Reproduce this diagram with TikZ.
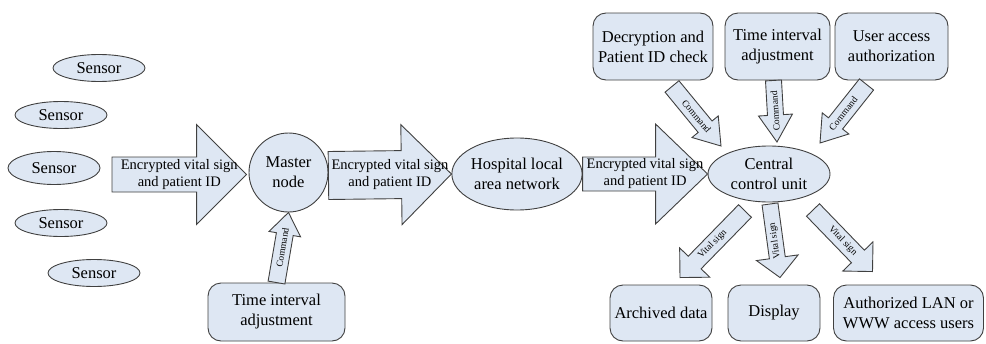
\documentclass[tikz,border=0pt]{standalone}
\usepackage{fontspec}
\setmainfont{Liberation Serif}
\usetikzlibrary{shapes.geometric,calc}

\definecolor{boxfill}{RGB}{222,231,243}
\definecolor{edge}{RGB}{64,64,64}

\tikzset{
  base/.style={draw=edge, fill=boxfill, line width=0.9pt, inner sep=0pt,
    align=center, font=\fontsize{16.5}{20}\selectfont},
  sensor/.style={base, ellipse, minimum width=92pt, minimum height=27pt},
  roundbox/.style={base, rectangle, rounded corners=13pt},
  blockarrow/.style={draw=edge, fill=boxfill, line width=0.9pt, line join=miter},
  bigtext/.style={font=\fontsize{14.5}{17}\selectfont, align=center, inner sep=0pt},
  smalltext/.style={font=\fontsize{9.5}{11}\selectfont, inner sep=0pt},
}

% Block arrow from #1 (tail) to #2 (tip):
% #3 body half-width, #4 head half-width, #5 head length,
% #6 label options, #7 label text
\newcommand{\blockarrow}[7]{%
  \coordinate (ba-t) at #1;
  \coordinate (ba-p) at #2;
  \coordinate (ba-h) at ($(ba-p)!#5!(ba-t)$);
  \draw[blockarrow]
    ($(ba-t)!#3!90:(ba-p)$) -- ($(ba-h)!#3!90:(ba-p)$) --
    ($(ba-h)!#4!90:(ba-p)$) -- (ba-p) --
    ($(ba-h)!#4!-90:(ba-p)$) -- ($(ba-h)!#3!-90:(ba-p)$) --
    ($(ba-t)!#3!-90:(ba-p)$) -- cycle;
  \path (ba-t) -- (ba-p) node[midway, #6] {#7};
}

\begin{document}
\begin{tikzpicture}[x=1pt,y=-1pt]
\useasboundingbox (0,0) rectangle (986,343);

% sensors
\node[sensor] (s1) at (99,68) {Sensor};
\node[sensor] (s2) at (61,115) {Sensor};
\node[sensor, minimum height=33pt] (s3) at (54,168) {Sensor};
\node[sensor] (s4) at (61,223) {Sensor};
\node[sensor] (s5) at (94,273) {Sensor};

% main chain
\node[base, circle, minimum size=79pt] (master) at (288.5,172.5) {Master\\node};
\node[base, ellipse, minimum width=130pt, minimum height=72pt] (lan) at (517,174) {Hospital local\\area network};
\node[base, ellipse, minimum width=122pt, minimum height=56pt] (ccu) at (769,174) {Central\\control unit};

% control boxes
\node[roundbox, minimum width=137pt, minimum height=58pt] (tlb) at (276.5,312) {Time interval\\adjustment};
\node[roundbox, minimum width=120pt, minimum height=67pt] (boxA) at (653,46.5) {Decryption and\\Patient ID check};
\node[roundbox, minimum width=105pt, minimum height=67pt] (boxB) at (777.5,46.5) {Time interval\\adjustment};
\node[roundbox, minimum width=113pt, minimum height=67pt] (boxC) at (891.5,46.5) {User access\\authorization};

% outputs
\node[roundbox, minimum width=102pt, minimum height=56pt] (arch) at (661,313) {Archived data};
\node[roundbox, minimum width=92pt, minimum height=56pt] (disp) at (774,313) {Display};
\node[roundbox, minimum width=150pt, minimum height=56pt] (auth) at (908.5,313) {Authorized LAN or\\WWW access users};

% data flow
\coordinate (feed) at (112,174.5);
\blockarrow{(feed)}{([shift={(-2,2)}]master.west)}{17.5pt}{50pt}{50pt}{bigtext}{Encrypted vital sign\\and patient ID}
\blockarrow{([shift={(0,3)}]master.east)}{(lan.west)}{24pt}{50pt}{50pt}{bigtext}{Encrypted vital sign\\and patient ID}
\blockarrow{(lan.east)}{(ccu.west)}{17pt}{50pt}{52pt}{bigtext}{Encrypted vital sign\\and patient ID}

% commands
\blockarrow{(tlb.north)}{(master.south)}{8.5pt}{16pt}{22pt}{smalltext, sloped}{Command}
\blockarrow{([shift={(19,6)}]boxA.south)}{([shift={(-48,-28)}]ccu.center)}{9pt}{17pt}{25pt}{smalltext, sloped}{Command}
\blockarrow{([shift={(-4,0)}]boxB.south)}{([shift={(8,-32)}]ccu.center)}{8pt}{17pt}{27pt}{smalltext, rotate=94}{Command}
\blockarrow{([shift={(-25,4)}]boxC.south)}{([shift={(51,-31)}]ccu.center)}{9pt}{17pt}{25pt}{smalltext, sloped}{Command}

% vital sign outputs
\blockarrow{([shift={(-24,37)}]ccu.center)}{([shift={(19,-7)}]arch.north)}{9pt}{21pt}{21pt}{smalltext, sloped}{Vital sign}
\blockarrow{([shift={(1,30)}]ccu.center)}{([shift={(6,-7)}]disp.north)}{8pt}{21pt}{20pt}{smalltext, rotate=98}{Vital sign}
\blockarrow{([shift={(44,36)}]ccu.center)}{([shift={(-36,-13)}]auth.north)}{9pt}{21pt}{21pt}{smalltext, sloped}{Vital sign}

\end{tikzpicture}
\end{document}
